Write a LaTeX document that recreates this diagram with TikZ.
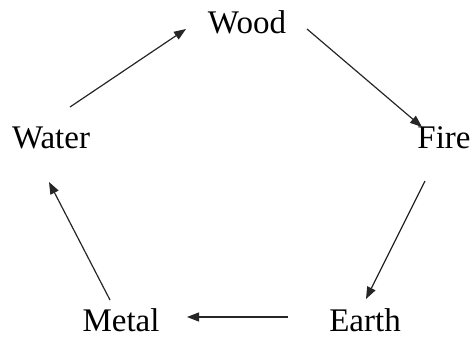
\documentclass[tikz,border=0pt]{standalone}
\usepackage{fontspec}
\setmainfont{Liberation Serif}
\usetikzlibrary{arrows.meta}
\begin{document}
\begin{tikzpicture}[x=1pt,y=-1pt,
  elem/.style={anchor=base,inner sep=0pt,font=\fontsize{33}{40}\selectfont},
  conn/.style={line width=1.2pt,draw=black!85,-{Triangle[length=12pt,width=9pt]}}]
\useasboundingbox (0,0) rectangle (474,338);
\node[elem] (wood)  at (247,33)  {Wood};
\node[elem] (water) at (51,148)  {Water};
\node[elem] (fire)  at (444,148) {Fire};
\node[elem] (metal) at (121,331) {Metal};
\node[elem] (earth) at (365,331) {Earth};
\coordinate (wa1) at (70,107);  \coordinate (wo1) at (186,29);
\coordinate (wo2) at (307,29);  \coordinate (fi1) at (422,127);
\coordinate (fi2) at (425,181); \coordinate (ea1) at (366,299);
\coordinate (ea2) at (288,317); \coordinate (me1) at (187,317);
\coordinate (me2) at (110,300); \coordinate (wa2) at (49,182);
\draw[conn] (wa1) -- (wo1);
\draw[conn] (wo2) -- (fi1);
\draw[conn] (fi2) -- (ea1);
\draw[conn] (ea2) -- (me1);
\draw[conn] (me2) -- (wa2);
\end{tikzpicture}
\end{document}
